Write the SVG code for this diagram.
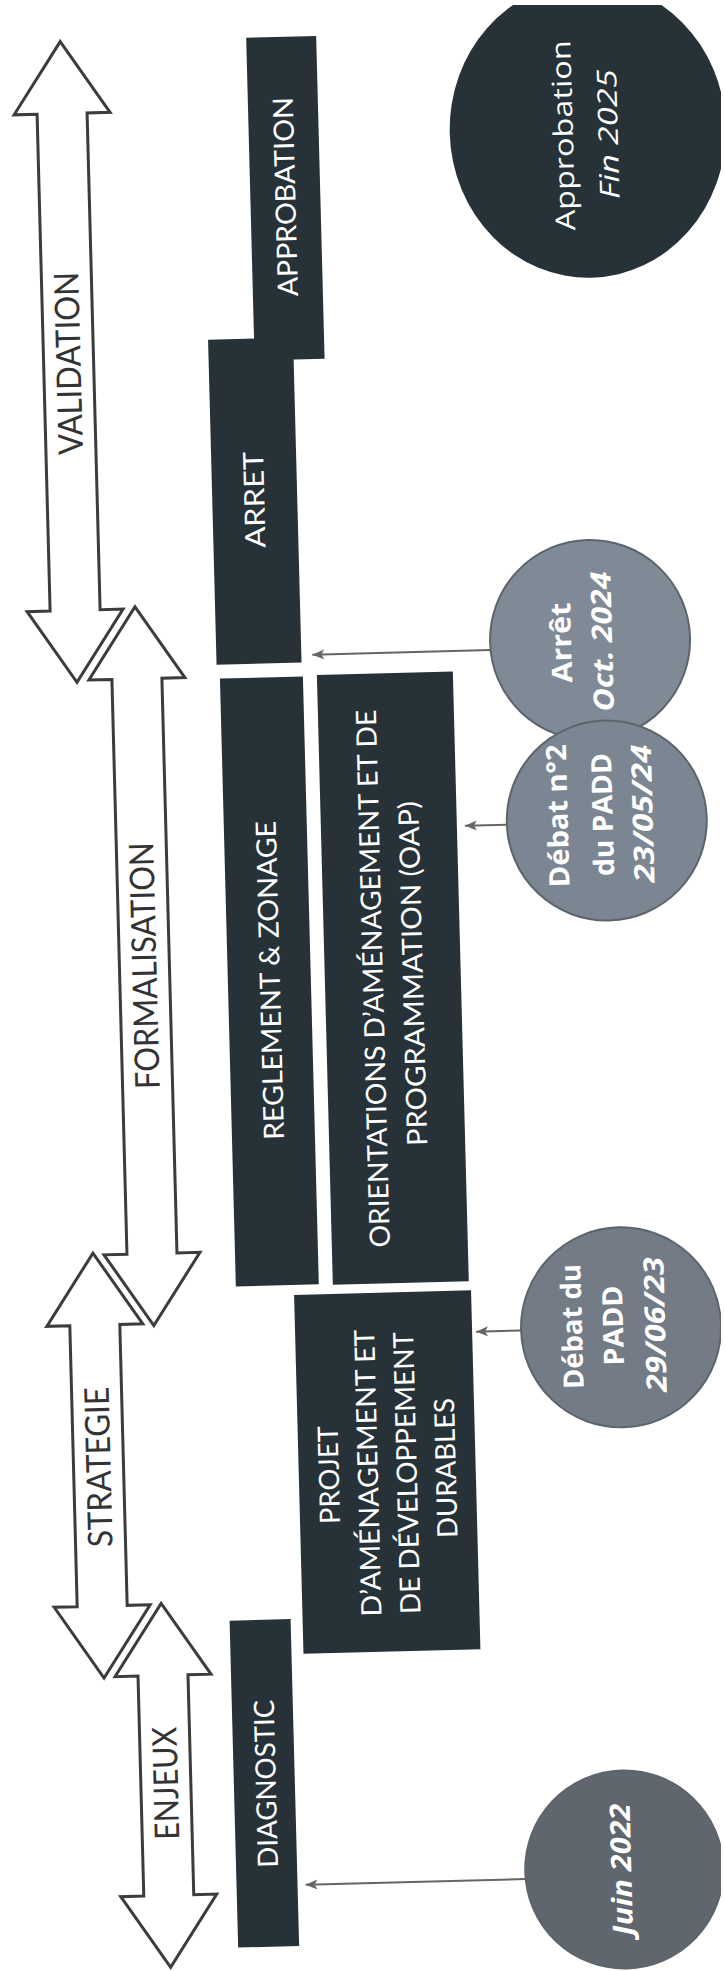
<svg xmlns="http://www.w3.org/2000/svg" width="725" height="1971" viewBox="0 0 725 1971">
<style>
.phase{fill:#ffffff;stroke:#3c3c3c;stroke-width:3;stroke-linejoin:miter}
.ptxt{font-family:Lato,"Open Sans","Liberation Sans",sans-serif;font-size:34px;fill:#333333;text-anchor:middle}
.box{fill:#263238}
.btxt{font-family:Lato,"Open Sans","Liberation Sans",sans-serif;font-size:28px;fill:#ffffff;text-anchor:middle}
.date{stroke:#5c646c;stroke-width:2}
.ctxt{font-family:"Open Sans","Liberation Sans",sans-serif;font-size:28px;font-weight:bold;fill:#ffffff;text-anchor:middle}
.conn{fill:none;stroke:#666666;stroke-width:2;marker-end:url(#ah)}
</style>
<defs>
<marker id="ah" viewBox="0 0 12 10" refX="12" refY="5" markerWidth="12" markerHeight="10" markerUnits="userSpaceOnUse" orient="auto">
<path d="M0,0 L12,5 L0,10 L3,5 Z" fill="#666666"/>
</marker>
<clipPath id="page"><rect x="0" y="5" width="721" height="1966"/></clipPath>
</defs>
<rect x="0" y="0" width="725" height="1971" fill="#ffffff"/>
<g clip-path="url(#page)">
<g transform="rotate(-1.5 362 985)">

<g id="phase-validation">
<path class="phase" d="M85,34 L133,106 L110,106 L110,603 L133,603 L85,675 L37,603 L60,603 L60,106 L37,106 Z"/>
<text class="ptxt" transform="translate(97,356) rotate(-90)" textLength="183" lengthAdjust="spacingAndGlyphs">VALIDATION</text>
</g>
<g id="phase-formalisation">
<path class="phase" d="M145,601 L193,673 L170,673 L170,1248 L193,1248 L145,1320 L97,1248 L120,1248 L120,673 L97,673 Z"/>
<text class="ptxt" transform="translate(157,960) rotate(-90)" textLength="247" lengthAdjust="spacingAndGlyphs">FORMALISATION</text>
</g>
<g id="phase-strategie">
<path class="phase" d="M86,1246 L134,1318 L111,1318 L111,1599 L134,1599 L86,1671 L38,1599 L61,1599 L61,1318 L38,1318 Z"/>
<text class="ptxt" transform="translate(98,1460) rotate(-90)" textLength="160" lengthAdjust="spacingAndGlyphs">STRATEGIE</text>
</g>
<g id="phase-enjeux">
<path class="phase" d="M145,1598 L193,1670 L170,1670 L170,1890 L193,1890 L145,1962 L97,1890 L120,1890 L120,1670 L97,1670 Z"/>
<text class="ptxt" transform="translate(157,1778) rotate(-90)" textLength="113" lengthAdjust="spacingAndGlyphs">ENJEUX</text>
</g>

<g id="step-approbation">
<rect class="box" x="271" y="35" width="70" height="323"/>
<text class="btxt" transform="translate(316,195) rotate(-90)" textLength="199" lengthAdjust="spacingAndGlyphs">APPROBATION</text>
</g>
<g id="step-arret">
<rect class="box" x="225" y="336" width="85" height="325"/>
<text class="btxt" transform="translate(277,497) rotate(-90)" textLength="96" lengthAdjust="spacingAndGlyphs">ARRET</text>
</g>
<g id="step-reglement">
<rect class="box" x="228" y="675" width="83" height="608"/>
<text class="btxt" transform="translate(280,978) rotate(-90)" textLength="319" lengthAdjust="spacingAndGlyphs">REGLEMENT &amp; ZONAGE</text>
</g>
<g id="step-oap">
<rect class="box" x="325" y="674" width="136" height="610"/>
<text class="btxt" transform="translate(383,979) rotate(-90)" textLength="538" lengthAdjust="spacingAndGlyphs">ORIENTATIONS D’AMÉNAGEMENT ET DE</text>
<text class="btxt" transform="translate(423,975) rotate(-90)" textLength="345" lengthAdjust="spacingAndGlyphs">PROGRAMMATION (OAP)</text>
</g>
<g id="step-padd">
<rect class="box" x="286" y="1293" width="177" height="359"/>
<text class="btxt" transform="translate(326,1474) rotate(-90)" textLength="98" lengthAdjust="spacingAndGlyphs">PROJET</text>
<text class="btxt" transform="translate(365,1473) rotate(-90)" textLength="287" lengthAdjust="spacingAndGlyphs">D’AMÉNAGEMENT ET</text>
<text class="btxt" transform="translate(404,1474) rotate(-90)" textLength="282" lengthAdjust="spacingAndGlyphs">DE DÉVELOPPEMENT</text>
<text class="btxt" transform="translate(443,1470) rotate(-90)" textLength="140" lengthAdjust="spacingAndGlyphs">DURABLES</text>
</g>
<g id="step-diagnostic">
<rect class="box" x="213" y="1617" width="61" height="327"/>
<text class="btxt" transform="translate(255,1781) rotate(-90)" textLength="168" lengthAdjust="spacingAndGlyphs">DIAGNOSTIC</text>
</g>

<g id="connectors">
<path class="conn" d="M499,653.5 L321,653.5"/>
<path class="conn" d="M511,828.5 L469,828.5"/>
<path class="conn" d="M512,1334.5 L467,1334.5"/>
<path class="conn" d="M502,1883 L282,1883"/>
</g>

<g id="date-approbation">
<ellipse cx="610" cy="136" rx="138" ry="148" fill="#263238"/>
<text class="ctxt" style="font-weight:normal;font-size:27px" transform="translate(595,141) rotate(-90)" textLength="190" lengthAdjust="spacingAndGlyphs">Approbation</text>
<text class="ctxt" style="font-weight:normal;font-size:27px;font-style:italic" transform="translate(640,141) rotate(-90)" textLength="130" lengthAdjust="spacingAndGlyphs">Fin 2025</text>
</g>
<g id="date-arret">
<circle class="date" cx="599" cy="646" r="100" fill="#808a96"/>
<text class="ctxt" transform="translate(580,648) rotate(-90)" textLength="80" lengthAdjust="spacingAndGlyphs">Arrêt</text>
<text class="ctxt" style="font-style:italic" transform="translate(621,648) rotate(-90)" textLength="140" lengthAdjust="spacingAndGlyphs">Oct. 2024</text>
</g>
<g id="date-debat2">
<circle class="date" cx="611" cy="827" r="100" fill="#7c8692"/>
<text class="ctxt" transform="translate(572,821) rotate(-90)" textLength="143" lengthAdjust="spacingAndGlyphs">Débat n°2</text>
<text class="ctxt" transform="translate(617,821) rotate(-90)" textLength="123" lengthAdjust="spacingAndGlyphs">du PADD</text>
<text class="ctxt" style="font-style:italic" transform="translate(657,821) rotate(-90)" textLength="138" lengthAdjust="spacingAndGlyphs">23/05/24</text>
</g>
<g id="date-debat1">
<circle class="date" cx="612" cy="1334" r="100" fill="#727b86"/>
<text class="ctxt" transform="translate(573,1332) rotate(-90)" textLength="125" lengthAdjust="spacingAndGlyphs">Débat du</text>
<text class="ctxt" transform="translate(614,1332) rotate(-90)" textLength="80" lengthAdjust="spacingAndGlyphs">PADD</text>
<text class="ctxt" style="font-style:italic" transform="translate(656,1332) rotate(-90)" textLength="135" lengthAdjust="spacingAndGlyphs">29/06/23</text>
</g>
<g id="date-juin">
<circle class="date" cx="601" cy="1876" r="99" fill="#5f666e"/>
<text class="ctxt" style="font-style:italic" transform="translate(608,1876) rotate(-90)" textLength="132" lengthAdjust="spacingAndGlyphs">Juin 2022</text>
</g>

</g>
</g>
</svg>
